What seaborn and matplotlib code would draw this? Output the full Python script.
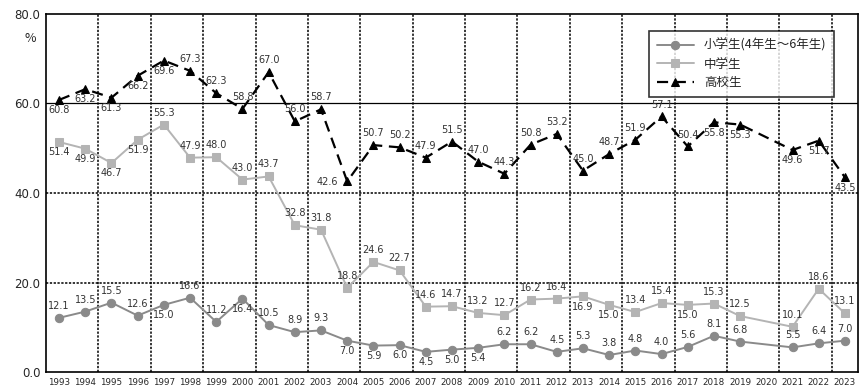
import numpy as np
import pandas as pd
import matplotlib
matplotlib.use("Agg")
import matplotlib.pyplot as plt
import seaborn as sns

# Datos (2020: sin dato)
years = list(range(1993, 2024))

shogaku = [12.1, 13.5, 15.5, 12.6, 15.0, 16.6, 11.2, 16.4, 10.5, 8.9,
           9.3, 7.0, 5.9, 6.0, 4.5, 5.0, 5.4, 6.2, 6.2, 4.5,
           5.3, 3.8, 4.8, 4.0, 5.6, 8.1, 6.8, np.nan, 5.5, 6.4, 7.0]

chugaku = [51.4, 49.9, 46.7, 51.9, 55.3, 47.9, 48.0, 43.0, 43.7, 32.8,
           31.8, 18.8, 24.6, 22.7, 14.6, 14.7, 13.2, 12.7, 16.2, 16.4,
           16.9, 15.0, 13.4, 15.4, 15.0, 15.3, 12.5, np.nan, 10.1, 18.6, 13.1]

koko = [60.8, 63.2, 61.3, 66.2, 69.6, 67.3, 62.3, 58.8, 67.0, 56.0,
        58.7, 42.6, 50.7, 50.2, 47.9, 51.5, 47.0, 44.3, 50.8, 53.2,
        45.0, 48.7, 51.9, 57.1, 50.4, 55.8, 55.3, np.nan, 49.6, 51.7, 43.5]

series_names = ["小学生(4年生～6年生)", "中学生", "高校生"]

# Posicion de etiquetas: a = arriba, b = abajo, l = izquierda
pos_sho = list("aaaabaabaaabbbbbbaaaaaaaaaaaaaa")
pos_chu = list("bbbbaaaaaaaaaaaaaaaabbaabaaaaaa")
pos_ko = list("bbbbbaaaaaalaaaaaaaaaaaaabbbbbb")

sns.set_style("white")
plt.rcParams['font.family'] = ['Noto Sans CJK JP', 'DejaVu Sans']

fig = plt.figure(figsize=(8.62, 3.88), dpi=100)
ax = fig.add_axes([46 / 862, 16 / 388, (858 - 46) / 862, (372 - 14) / 388])

styles = [
    dict(color="#8a8a8a", marker="o", linestyle="-", markersize=6, linewidth=1.4),
    dict(color="#b4b4b4", marker="s", linestyle="-", markersize=6, linewidth=1.4),
    dict(color="#000000", marker="^", linestyle=(0, (5, 3)), markersize=6, linewidth=1.6),
]

for name, vals, st in zip(series_names, [shogaku, chugaku, koko], styles):
    df = pd.DataFrame({"year": years, "val": vals}).dropna()
    sns.lineplot(data=df, x="year", y="val", ax=ax, label=name,
                 color=st["color"], marker=st["marker"], linestyle=st["linestyle"],
                 markersize=st["markersize"], linewidth=st["linewidth"],
                 markeredgecolor=st["color"])

# Etiquetas de datos
offsets = {"a": (0, 5), "b": (0, -11), "l": (-14, -4)}
for vals, pos in zip([shogaku, chugaku, koko], [pos_sho, pos_chu, pos_ko]):
    for x, v, p in zip(years, vals, pos):
        if np.isnan(v):
            continue
        ax.annotate(f"{v:.1f}", (x, v), textcoords="offset points", xytext=offsets[p],
                    ha="center", va="bottom", fontsize=7, color="#333333",
                    family="DejaVu Sans")

# Rejilla
for xg in np.arange(1994.5, 2023, 2):
    ax.axvline(xg, color="black", linestyle=(0, (1.5, 1)), linewidth=1.1, zorder=0)
for yg in [20, 40]:
    ax.axhline(yg, color="black", linestyle=(0, (1.5, 1)), linewidth=1.1, zorder=0)
ax.axhline(60, color="black", linewidth=0.9, zorder=0)

ax.set_xlim(1992.5, 2023.5)
ax.set_ylim(0, 80)
ax.set_yticks([0, 20, 40, 60, 80])
ax.set_yticklabels([f"{t:.1f}" for t in [0, 20, 40, 60, 80]], fontsize=8.5,
                   family="DejaVu Sans")
ax.set_xticks(years)
ax.set_xticklabels([str(y) for y in years], fontsize=6.3, family="DejaVu Sans")
ax.tick_params(axis="both", length=0, pad=4)
ax.set_xlabel("")
ax.set_ylabel("")
for sp in ax.spines.values():
    sp.set_color("black")
    sp.set_linewidth(1.2)

fig.text(30 / 862, 1 - 38 / 388, "%", fontsize=9, ha="center", va="center")

leg = ax.legend(loc="upper left", bbox_to_anchor=(0.735, 0.97), frameon=True,
                fancybox=False, edgecolor="black", fontsize=9, handlelength=3,
                labelspacing=0.45, borderpad=0.6)
leg.get_frame().set_linewidth(1.2)

fig.savefig("out.png", dpi=100)
